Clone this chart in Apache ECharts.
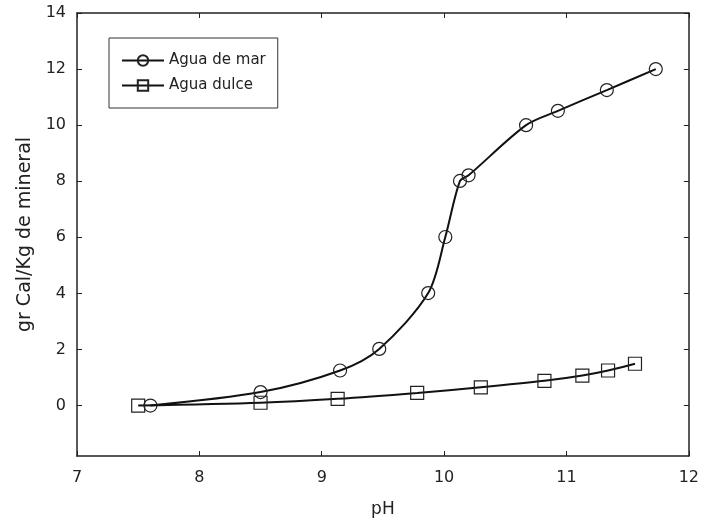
<!DOCTYPE html>
<html>
<head>
<meta charset="utf-8">
<script src="https://cdn.jsdelivr.net/npm/echarts@6/dist/echarts.min.js"></script>
<style>
  html, body { margin: 0; padding: 0; background: #fff; }
  #chart { width: 702px; height: 525px; }
</style>
</head>
<body>
<div id="chart"></div>
<script>
// Calorific yield vs pH for sea water and fresh water
const seaPH    = [7.60, 8.50, 9.15, 9.47, 9.87, 10.01, 10.13, 10.20, 10.67, 10.93, 11.33, 11.73];
const seaCal   = [0.00, 0.48, 1.25, 2.02, 4.01, 6.01, 8.01, 8.21, 10.00, 10.51, 11.25, 12.00];
const freshPH  = [7.50, 8.50, 9.13, 9.78, 10.30, 10.82, 11.13, 11.34, 11.56];
const freshCal = [0.00, 0.10, 0.24, 0.45, 0.65, 0.88, 1.07, 1.25, 1.49];
const xTicks = [7, 8, 9, 10, 11, 12];
const yTicks = [0, 2, 4, 6, 8, 10, 12, 14];

const FONT = '"DejaVu Sans", Arial, sans-serif';
const AX = '#222';

const pairs = (xs, ys) => xs.map((x, i) => [x, ys[i]]);

const axisCommon = {
  type: 'value',
  axisLine: { show: true, onZero: false, lineStyle: { color: AX, width: 1.5 } },
  axisTick: { show: true, inside: true, length: 5, lineStyle: { color: AX, width: 1 } },
  splitLine: { show: false }
};

const chart = echarts.init(document.getElementById('chart'), null, { renderer: 'canvas' });
chart.setOption({
  backgroundColor: '#fff',
  animation: false,
  grid: { left: 77, top: 13, right: 13, bottom: 69 },
  legend: {
    left: 109, top: 38,
    orient: 'vertical',
    borderColor: '#333', borderWidth: 1,
    padding: [15, 12, 15, 12],
    itemWidth: 42, itemHeight: 13, itemGap: 10,
    textStyle: { fontFamily: FONT, fontSize: 15, color: AX },
    data: ['Agua de mar', 'Agua dulce']
  },
  xAxis: [
    Object.assign({}, axisCommon, {
      min: 7, max: 12, interval: 1,
      name: 'pH', nameLocation: 'middle', nameGap: 45,
      nameTextStyle: { fontFamily: FONT, fontSize: 17, color: AX },
      axisTick: Object.assign({}, axisCommon.axisTick, { customValues: xTicks }),
      axisLabel: { customValues: xTicks, margin: 14, fontFamily: FONT, fontSize: 16, color: AX }
    }),
    Object.assign({}, axisCommon, {
      position: 'top', min: 7, max: 12, interval: 1,
      axisTick: Object.assign({}, axisCommon.axisTick, { customValues: xTicks }),
      axisLabel: { show: false }
    })
  ],
  yAxis: [
    Object.assign({}, axisCommon, {
      min: -1.8, max: 14,
      name: 'gr Cal/Kg de mineral', nameLocation: 'middle', nameGap: 42,
      nameTextStyle: { fontFamily: FONT, fontSize: 19, color: AX },
      axisTick: Object.assign({}, axisCommon.axisTick, { customValues: yTicks }),
      axisLabel: { customValues: yTicks, margin: 11, fontFamily: FONT, fontSize: 16, color: AX }
    }),
    Object.assign({}, axisCommon, {
      position: 'right', min: -1.8, max: 14,
      axisTick: Object.assign({}, axisCommon.axisTick, { customValues: yTicks }),
      axisLabel: { show: false }
    })
  ],
  series: [
    {
      name: 'Agua de mar', type: 'line',
      data: pairs(seaPH, seaCal),
      smooth: 0.3,
      symbol: 'circle', symbolSize: 13,
      lineStyle: { color: '#111', width: 2 },
      itemStyle: { color: 'rgba(255,255,255,0)', borderColor: '#222', borderWidth: 1.2 },
      z: 3
    },
    {
      name: 'Agua dulce', type: 'line',
      data: pairs(freshPH, freshCal),
      smooth: 0.3,
      symbol: 'rect', symbolSize: 13,
      lineStyle: { color: '#111', width: 2 },
      itemStyle: { color: 'rgba(255,255,255,0)', borderColor: '#222', borderWidth: 1.2 },
      z: 2
    }
  ]
});
</script>
</body>
</html>
